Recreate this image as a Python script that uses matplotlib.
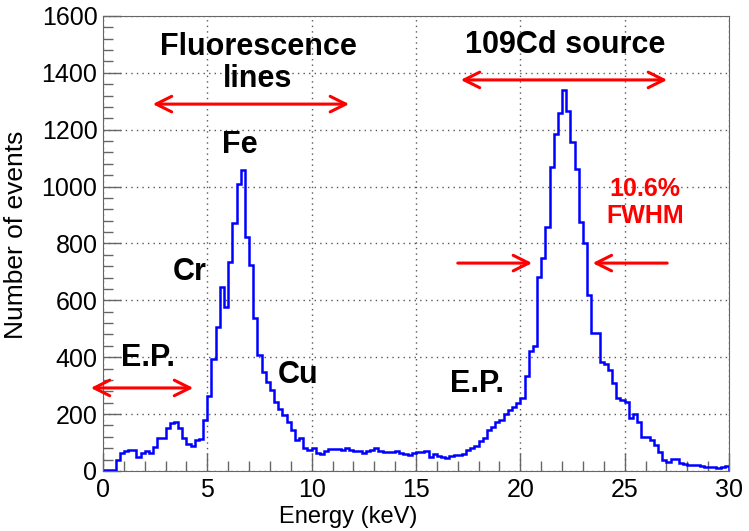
import numpy as np
import matplotlib
matplotlib.use("Agg")
import matplotlib.pyplot as plt
from matplotlib.ticker import MultipleLocator

plt.rcParams['font.family'] = ['Liberation Sans', 'DejaVu Sans']

# histogram: 150 bins of 0.2 keV from 0 to 30 keV
bin_edges = np.linspace(0, 30, 151)
counts = [
    # 0 - 5 keV
    2, 4, 5, 39, 65, 70, 73, 74, 50, 62, 70, 65, 83, 115, 117, 150, 168, 173, 150, 115, 95, 88, 109, 111, 179,
    # 5 - 10 keV
    264, 393, 507, 648, 578, 736, 873, 1009, 1058, 824, 724, 537, 408, 349, 314, 285, 244, 217, 197, 173, 144, 109, 115, 80, 74,
    # 10 - 15 keV
    80, 64, 60, 71, 76, 78, 78, 74, 80, 74, 70, 70, 65, 72, 74, 80, 72, 67, 67, 68, 72, 62, 60, 56, 65,
    # 15 - 20 keV
    68, 68, 72, 50, 60, 53, 48, 45, 53, 56, 56, 60, 74, 80, 88, 107, 115, 144, 156, 173, 180, 200, 215, 225, 238,
    # 20 - 25 keV
    256, 334, 423, 440, 681, 748, 857, 1070, 1185, 1258, 1340, 1267, 1158, 1062, 877, 800, 619, 484, 484, 384, 375, 355, 308, 256, 250,
    # 25 - 30 keV
    243, 186, 200, 173, 118, 118, 109, 91, 68, 39, 33, 41, 41, 27, 25, 22, 21, 20, 16, 14, 13, 14, 12, 15, 18,
]

fig = plt.figure(figsize=(7.49, 5.31), dpi=100)
ax = fig.add_axes([0.1375, 0.113, 0.8358, 0.857])

ax.stairs(counts, bin_edges, color='#0000ff', lw=1.8)

ax.set_xlim(0, 30)
ax.set_ylim(0, 1600)
ax.xaxis.set_major_locator(MultipleLocator(5))
ax.xaxis.set_minor_locator(MultipleLocator(1))
ax.yaxis.set_major_locator(MultipleLocator(200))
ax.yaxis.set_minor_locator(MultipleLocator(40))
ax.tick_params(which='both', direction='in', color='0.4', labelsize=18)
ax.tick_params(which='major', length=13, width=1)
ax.tick_params(which='minor', length=7, width=1)
ax.tick_params(axis='x', pad=5)
ax.tick_params(axis='y', pad=4)
for s in ax.spines.values():
    s.set_color('0.4')
ax.grid(True, which='major', ls=(0, (1, 3)), color='0.35', lw=1)
ax.set_axisbelow(True)

ax.set_xlabel('Energy (keV)', fontsize=17)
ax.xaxis.set_label_coords(0.392, -0.078)
ax.set_ylabel('Number of events', fontsize=19)
ax.yaxis.set_label_coords(-0.12, 0.52)

bold = dict(fontweight='bold', ha='center', va='center', fontsize=22)
ax.text(7.43, 1435, 'Fluorescence\nlines', linespacing=1.1, **bold)
ax.text(6.56, 1146, 'Fe', **bold)
ax.text(4.17, 700, 'Cr', **bold)
ax.text(9.34, 338, 'Cu', **bold)
ax.text(2.16, 397, 'E.P.', **bold)
ax.text(17.92, 306, 'E.P.', **bold)
ax.text(22.14, 1498, '109Cd source', **bold)
ax.text(25.97, 945, '10.6%\nFWHM', color='#ff0000', fontweight='bold',
        ha='center', va='center', fontsize=18, linespacing=1.15)

arrow = dict(arrowstyle='<->', color='#ff0000', lw=2.2, mutation_scale=28)
ax.annotate('', xy=(2.25, 1290), xytext=(11.93, 1290), arrowprops=arrow, annotation_clip=False)
ax.annotate('', xy=(-0.72, 292), xytext=(4.46, 292), arrowprops=arrow, annotation_clip=False)
ax.annotate('', xy=(17.01, 1375), xytext=(27.17, 1375), arrowprops=arrow, annotation_clip=False)
one = dict(arrowstyle='->', color='#ff0000', lw=2.2, mutation_scale=28)
ax.annotate('', xy=(20.70, 731), xytext=(16.87, 731), arrowprops=one)
ax.annotate('', xy=(23.33, 731), xytext=(27.17, 731), arrowprops=one)

fig.savefig('out.png', dpi=100)
